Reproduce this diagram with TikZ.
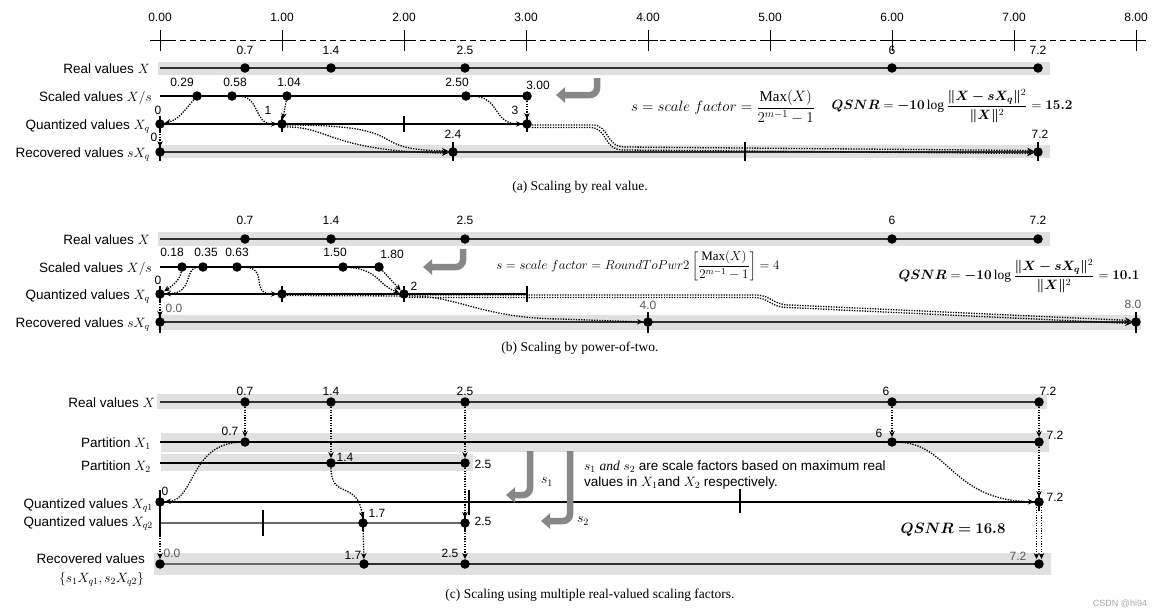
\RequirePackage{fix-cm}
\documentclass[tikz,border=0pt]{standalone}
\usepackage{amsmath}
\usepackage{bm}
\usepackage{fontspec}
\setmainfont{Liberation Sans}
\setmathrm{Liberation Serif}
\newfontfamily\capfont{Liberation Serif}
\usetikzlibrary{arrows.meta}
\definecolor{bandgray}{HTML}{E0E0E0}
\definecolor{linegray}{HTML}{303030}
\definecolor{arrowgray}{HTML}{878787}
\definecolor{labgray}{HTML}{585858}
\definecolor{lightline}{HTML}{6A6A6A}
\tikzset{
  band/.style={fill=bandgray},
  mainline/.style={draw=linegray, line width=1.8pt},
  thinline/.style={draw=black, line width=1.2pt},
  tickmark/.style={draw=black, line width=1.2pt},
  ptdot/.style={circle, fill=black, inner sep=0pt, minimum size=9.5pt},
  num/.style={font=\fontsize{12}{14}\selectfont, inner sep=0pt},
  rowlab/.style={anchor=base east, font=\fontsize{13.5}{16}\selectfont, inner sep=0pt},
  conn/.style={line width=1.3pt, dash pattern=on 1.3pt off 1.3pt, -{Stealth[length=6pt,width=5.5pt]}},
  gbent/.style={draw=arrowgray, line width=6.5pt, rounded corners=7pt, -{Triangle[length=9pt,width=15pt]}},
  captext/.style={font={\capfont\fontsize{13.5}{16}\selectfont}, inner sep=0pt},
  formula/.style={font=\fontsize{13}{15}\selectfont, inner sep=0pt},
  bodytext/.style={anchor=base west, font=\fontsize{13.5}{16}\selectfont, inner sep=0pt},
}
\begin{document}
\begin{tikzpicture}[x=1pt,y=1pt]
\useasboundingbox (0,0) rectangle (1163,-616);

% ---------------- top axis
\draw[line width=1pt, dash pattern=on 6pt off 4pt] (150,-40) -- (1146,-40);
\foreach \i in {0,...,8}{
  \draw[line width=1pt] ({160+122*\i},-30) -- ({160+122*\i},-51);
  \draw[line width=1pt] ({150+122*\i},-40) -- ({170+122*\i},-40);
  \node[num] (ax\i) at ({160+122*\i},-17) {\i.00};
}

% ---------------- panel (a)
\fill[band] (158,-62) rectangle (1050,-75);
\fill[band] (158,-145) rectangle (1050,-158);
\draw[mainline] (160,-68) -- (1038,-68);
\draw[thinline] (160,-96) -- (527,-96);
\draw[thinline] (160,-124) -- (527,-124);
\draw[mainline] (160,-152) -- (1038,-152);
\foreach \x in {160,282,404,527} \draw[tickmark] (\x,-116) -- (\x,-132);
\foreach \x in {160,453,745,1038} \draw[tickmark] (\x,-142) -- (\x,-161);

\node[rowlab] (aL1) at (150,-73) {Real values $X$};
\node[rowlab] (aL2) at (152,-101) {Scaled values $X/s$};
\node[rowlab] (aL3) at (150,-129) {Quantized values $X_q$};
\node[rowlab] (aL4) at (150,-157) {Recovered values $sX_q$};

\foreach \n/\x/\lab in {1/245/0.7, 2/331/1.4, 3/465/2.5, 4/892/6, 5/1038/7.2}{
  \node[ptdot] (aR\n) at (\x,-68) {};
  \node[num] (aRt\n) at (\x,-50) {\lab};
}
\node[ptdot] (aS1) at (197,-96) {};
\node[ptdot] (aS2) at (232,-96) {};
\node[ptdot] (aS3) at (287,-96) {};
\node[ptdot] (aS4) at (466,-96) {};
\node[ptdot] (aS5) at (527,-96) {};
\node[num] (aSt1) at (182,-82) {0.29};
\node[num] (aSt2) at (235,-82) {0.58};
\node[num] (aSt3) at (289,-82) {1.04};
\node[num] (aSt4) at (457,-82) {2.50};
\node[num] (aSt5) at (538,-85) {3.00};
\node[ptdot] (aQ0) at (160,-124) {};
\node[ptdot] (aQ1) at (282,-124) {};
\node[ptdot] (aQ3) at (527,-124) {};
\node[num] (aQt0) at (158,-110) {0};
\node[num] (aQt1) at (268,-110) {1};
\node[num] (aQt3) at (515,-110) {3};
\node[ptdot] (aV0) at (160,-152) {};
\node[ptdot] (aV24) at (453,-152) {};
\node[ptdot] (aV72) at (1038,-152) {};
\node[num] (aVt0) at (154,-137) {0};
\node[num] (aVt24) at (453,-134) {2.4};
\node[num] (aVt72) at (1040,-134) {7.2};

\draw[conn] (aS1) .. controls +(-12,-14) and +(18,4) .. (aQ0);
\draw[conn] (aS2) .. controls +(30,0) and +(-30,0) .. (aQ1);
\draw[conn] (aS3) -- (aQ1);
\draw[conn] (aS4) .. controls +(35,0) and +(-35,0) .. (aQ3);
\draw[conn] (aS5) -- (aQ3);
\draw[conn] (aQ0) -- (aV0);
\draw[conn] ([yshift=-1pt]aQ1.east) .. controls (420,-125) and (360,-150) .. ([yshift=1.2pt]aV24.west);
\draw[conn] ([yshift=-3pt]aQ1.east) .. controls (330,-127) and (330,-151) .. ([yshift=-1.2pt]aV24.west);
\draw[conn] ([yshift=-1pt]aQ3.east) -- (592,-125) .. controls (610,-125) and (605,-147) .. (625,-147) -- ([yshift=1.5pt]aV72.west);
\draw[conn] ([yshift=-3.5pt]aQ3.east) -- (590,-127.5) .. controls (608,-127.5) and (603,-150) .. (623,-150) -- ([yshift=-1.5pt]aV72.west);

\draw[gbent] (597,-78) |- (556,-95);

\node[formula, font=\fontsize{15}{17}\selectfont] (aF1) at (723,-107) {$s = scale\ factor = \dfrac{\mathrm{Max}(X)}{2^{m-1}-1}$};
\node[formula, font=\fontsize{13.5}{16}\selectfont] (aF2) at (952,-106) {$\bm{QSNR} = \bm{-10}\log\dfrac{\bm{\|X - sX_q\|}^2}{\bm{\|X\|}^2} = \bm{15.2}$};

\node[captext] (capA) at (580,-187) {(a) Scaling by real value.};

% ---------------- panel (b)
\fill[band] (158,-232) rectangle (1050,-246);
\fill[band] (158,-315) rectangle (1141,-330);
\draw[mainline] (160,-239) -- (1038,-239);
\draw[thinline] (160,-267) -- (380,-267);
\draw[thinline] (160,-294) -- (527,-294);
\draw[mainline] (160,-322) -- (1136,-322);
\foreach \x in {160,282,404,527} \draw[tickmark] (\x,-286) -- (\x,-302);
\foreach \x in {160,648,1136} \draw[tickmark] (\x,-312) -- (\x,-333);

\node[rowlab] (bL1) at (150,-244) {Real values $X$};
\node[rowlab] (bL2) at (152,-272) {Scaled values $X/s$};
\node[rowlab] (bL3) at (150,-299) {Quantized values $X_q$};
\node[rowlab] (bL4) at (150,-327) {Recovered values $sX_q$};

\foreach \n/\x/\lab in {1/245/0.7, 2/331/1.4, 3/465/2.5, 4/892/6, 5/1038/7.2}{
  \node[ptdot] (bR\n) at (\x,-239) {};
  \node[num] (bRt\n) at (\x,-220) {\lab};
}
\node[ptdot] (bS1) at (182,-267) {};
\node[ptdot] (bS2) at (203,-267) {};
\node[ptdot] (bS3) at (237,-267) {};
\node[ptdot] (bS4) at (343,-267) {};
\node[ptdot] (bS5) at (379,-267) {};
\node[num] (bSt1) at (172,-252) {0.18};
\node[num] (bSt2) at (206,-252) {0.35};
\node[num] (bSt3) at (237,-252) {0.63};
\node[num] (bSt4) at (335,-252) {1.50};
\node[num] (bSt5) at (392,-254) {1.80};
\node[ptdot] (bQ0) at (160,-294) {};
\node[ptdot] (bQ1) at (282,-294) {};
\node[ptdot] (bQ2) at (404,-294) {};
\node[num] (bQt0) at (158,-280) {0};
\node[num] (bQt2) at (414,-286) {2};
\node[ptdot] (bV0) at (160,-322) {};
\node[ptdot] (bV4) at (648,-322) {};
\node[ptdot] (bV8) at (1136,-322) {};
\node[num, text=labgray] (bVt0) at (174,-308) {0.0};
\node[num, text=labgray] (bVt4) at (648,-305) {4.0};
\node[num, text=labgray] (bVt8) at (1133,-304) {8.0};

\draw[conn] (bS1) .. controls +(-2,-13) and +(12,8) .. (bQ0);
\draw[conn] (bS2) .. controls +(-20,-1) and +(35,1) .. (bQ0);
\draw[conn] (bS3) .. controls +(35,0) and +(-35,0) .. (bQ1);
\draw[conn] (bS4) .. controls +(35,-2) and +(-25,8) .. (bQ2);
\draw[conn] (bS5) -- (bQ2);
\draw[conn] (bQ0) -- (bV0);
\draw[conn] ([yshift=-1.5pt]bQ1.east) -- (410,-296) .. controls (460,-296) and (480,-318) .. (560,-319) -- (bV4.west);
\draw[conn] ([yshift=-1pt]bQ2.east) -- (755,-295) .. controls (772,-295) and (772,-305) .. (790,-305) -- ([yshift=1.5pt]bV8.west);
\draw[conn] ([yshift=-3.5pt]bQ2.east) -- (753,-297.5) .. controls (770,-297.5) and (770,-307.5) .. (788,-307.5) -- ([yshift=-1.5pt]bV8.west);

\draw[gbent] (463,-249) |- (423,-267);

\node[formula] (bF1) at (638,-266) {$s = scale\ factor = RoundToPwr2\left[\dfrac{\mathrm{Max}(X)}{2^{m-1}-1}\right] = 4$};
\node[formula, font=\fontsize{13.5}{16}\selectfont] (bF2) at (1019,-276) {$\bm{QSNR} = \bm{-10}\log\dfrac{\bm{\|X - sX_q\|}^2}{\bm{\|X\|}^2} = \bm{10.1}$};

\node[captext] (capB) at (580,-348) {(b) Scaling by power-of-two.};

% ---------------- panel (c)
\fill[band] (157,-394) rectangle (1047,-409);
\fill[band] (161,-433) rectangle (1049,-452);
\fill[band] (161,-453.5) rectangle (473,-471);
\fill[band] (154,-553) rectangle (1051,-575);
\draw[mainline] (160,-402) -- (1039,-402);
\draw[thinline] (160,-442) -- (1039,-442);
\draw[thinline] (160,-463) -- (465,-463);
\draw[thinline] (160,-502) -- (1039,-502);
\draw[thinline, draw=lightline] (160,-523) -- (465,-523);
\draw[mainline, draw=lightline] (160,-564) -- (364,-564);
\draw[mainline] (364,-564) -- (1039,-564);
\draw[tickmark] (160,-490) -- (160,-536);
\draw[tickmark] (469,-490) -- (469,-515);
\draw[tickmark] (740,-489) -- (740,-513);
\draw[tickmark] (1039,-495) -- (1039,-511);
\draw[tickmark] (263,-510) -- (263,-536);
\draw[tickmark] (363,-512) -- (363,-531);
\draw[tickmark] (465,-512) -- (465,-532);

\node[rowlab] (cL1) at (155,-407) {Real values $X$};
\node[rowlab] (cL2) at (151,-447) {Partition $X_1$};
\node[rowlab] (cL3) at (151,-470) {Partition $X_2$};
\node[rowlab] (cL4) at (153,-508) {Quantized values $X_{q1}$};
\node[rowlab] (cL5) at (153,-526) {Quantized values $X_{q2}$};
\node[rowlab] (cL6) at (145,-563) {Recovered values};
\node[rowlab] (cL7) at (144,-582) {$\{s_1X_{q1}, s_2X_{q2}\}$};

\foreach \n/\x/\tx/\lab in {1/245/245/0.7, 2/331/331/1.4, 3/465/465/2.5, 4/892/886/6, 5/1039/1048/7.2}{
  \node[ptdot] (cR\n) at (\x,-402) {};
  \node[num] (cRt\n) at (\tx,-391) {\lab};
}
\node[ptdot] (cP07) at (245,-442) {};
\node[ptdot] (cP6) at (892,-442) {};
\node[ptdot] (cP72) at (1039,-442) {};
\node[ptdot] (cP14) at (331,-463) {};
\node[ptdot] (cP25) at (465,-463) {};
\node[ptdot] (cQ0) at (160,-502) {};
\node[ptdot] (cQ72) at (1039,-502) {};
\node[ptdot] (cQ17) at (363,-523) {};
\node[ptdot] (cQ25) at (465,-523) {};
\node[ptdot] (cV0) at (160,-564) {};
\node[ptdot] (cV17) at (364,-564) {};
\node[ptdot] (cV25) at (465,-564) {};
\node[ptdot] (cV72) at (1039,-564) {};

\node[num] (cPt07) at (230,-431) {0.7};
\node[num] (cPt6) at (879,-433) {6};
\node[num] (cPt72) at (1055,-435) {7.2};
\node[num] (cPt14) at (345,-457) {1.4};
\node[num] (cPt25) at (483,-464) {2.5};
\node[num] (cQt0) at (165,-491) {0};
\node[num] (cQt72) at (1055,-497) {7.2};
\node[num] (cQt17) at (377,-513) {1.7};
\node[num] (cQt25) at (483,-521) {2.5};
\node[num, text=labgray] (cVt0) at (172,-553) {0.0};
\node[num] (cVt17) at (353,-555) {1.7};
\node[num] (cVt25) at (450,-553) {2.5};
\node[num, text=labgray] (cVt72) at (1018,-556) {7.2};

\draw[conn] (cR1) -- (cP07);
\draw[conn] (cR2) -- (cP14);
\draw[conn] (cR3) -- (cP25);
\draw[conn] (cR4) -- (cP6);
\draw[conn] (cR5) -- (cP72);
\draw[conn] (cP07) .. controls +(-55,-2) and +(35,2) .. (cQ0);
\draw[conn] (cP14) .. controls +(0,-37) and +(-5,43) .. (cQ17);
\draw[conn] (cP25) -- (cQ25);
\draw[conn] (cP6) .. controls +(58,-1) and +(-89,2) .. (cQ72);
\draw[conn] (cP72) -- (cQ72);
\draw[conn] (cQ0) -- (cV0);
\draw[conn] (cQ17) -- (cV17);
\draw[conn] (cQ25) -- (cV25);
\draw[conn] ([xshift=-2.5pt]cQ72.south) -- ([xshift=-2.5pt]cV72.north);
\draw[conn] ([xshift=2.5pt]cQ72.south) -- ([xshift=2.5pt]cV72.north);

\draw[gbent] (530,-451) |- (506,-495);
\draw[gbent] (570,-451) |- (541,-521);
\node[formula, font=\fontsize{14}{16}\selectfont] (cs1) at (547,-482) {$s_1$};
\node[formula, font=\fontsize{14}{16}\selectfont] (cs2) at (583,-521) {$s_2$};

\node[bodytext] (cT1) at (584,-470) {$s_1$ $\mathit{and}$ $s_2$ are scale factors based on maximum real};
\node[bodytext] (cT2) at (584,-486) {values in $X_1$and $X_2$ respectively.};

\node[formula, font=\fontsize{15}{18}\selectfont] (cF) at (953,-530) {$\bm{QSNR = 16.8}$};

\node[captext] (capC) at (590,-595) {(c) Scaling using multiple real-valued scaling factors.};
\node[font=\fontsize{9}{10}\selectfont, text=gray!70, inner sep=0pt] (wm) at (1120,-604) {CSDN @hi94};
\end{tikzpicture}
\end{document}
